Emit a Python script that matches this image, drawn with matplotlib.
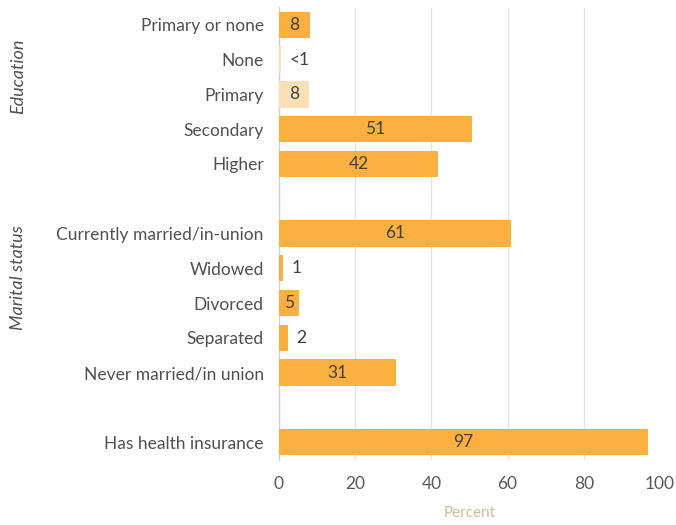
import matplotlib
matplotlib.use("Agg")
import matplotlib.pyplot as plt

plt.rcParams['font.family'] = ['Lato', 'DejaVu Sans']

categories = ["Primary or none", "None", "Primary", "Secondary", "Higher",
              "Currently married/in-union", "Widowed", "Divorced", "Separated",
              "Never married/in union", "Has health insurance"]
values = [8.1, 0.5, 8.0, 50.6, 41.7, 60.9, 1.0, 5.2, 2.4, 30.7, 96.9]
labels = ["8", "<1", "8", "51", "42", "61", "1", "5", "2", "31", "97"]
light = [False, True, True, False, False, False, False, False, False, False, False]
# row slots (gaps between groups)
rows = [0, 1, 2, 3, 4, 6, 7, 8, 9, 10, 12]
label_pos = ["in", "out", "in", "in", "in", "in", "out", "in", "out", "in", "in"]
xticks = [0, 20, 40, 60, 80, 100]

ORANGE = "#FBB040"
LIGHT = "#FDDFB3"
TEXT = "#404040"

fig = plt.figure(figsize=(6.76, 5.25), dpi=100)
ax = fig.add_axes([279/676, 1 - 459.5/525, 381/676, (459.5 - 7.5)/525])

colors = [LIGHT if l else ORANGE for l in light]
ax.barh(rows, values, height=0.76, color=colors, zorder=3)

for r, v, t, p in zip(rows, values, labels, label_pos):
    if p == "in":
        ax.text(v / 2, r, t, ha="center", va="center", fontsize=12.5, color=TEXT, zorder=4)
    else:
        ax.text(v + 2.2, r, t, ha="left", va="center", fontsize=12.5, color=TEXT, zorder=4)

ax.set_ylim(12.5, -0.5)
ax.set_xlim(0, 100)
ax.set_yticks(rows)
ax.set_yticklabels(categories, fontsize=12.5, color="#505050")
ax.set_xticks(xticks)
ax.set_xticklabels([str(x) for x in xticks], fontsize=12.5, color="#595959")
ax.tick_params(axis="y", length=0, pad=11)
ax.tick_params(axis="x", length=0, pad=12)
ax.grid(axis="x", color="#E3E3E3", linewidth=0.9, zorder=0)
for s in ["top", "right", "bottom"]:
    ax.spines[s].set_visible(False)
ax.spines["left"].set_color("#D0D0D0")
ax.spines["left"].set_linewidth(1.0)
ax.spines["left"].set_zorder(2)

ax.set_xlabel("Percent", fontsize=11, color="#CDBF97", labelpad=10)

fig.text(18/676, 1 - 76/525, "Education", rotation=90, ha="center", va="center",
         fontsize=13, style="italic", color="#505050")
fig.text(18/676, 1 - 278/525, "Marital status", rotation=90, ha="center", va="center",
         fontsize=13, style="italic", color="#505050")

fig.savefig("out.png", dpi=100, facecolor="white")
